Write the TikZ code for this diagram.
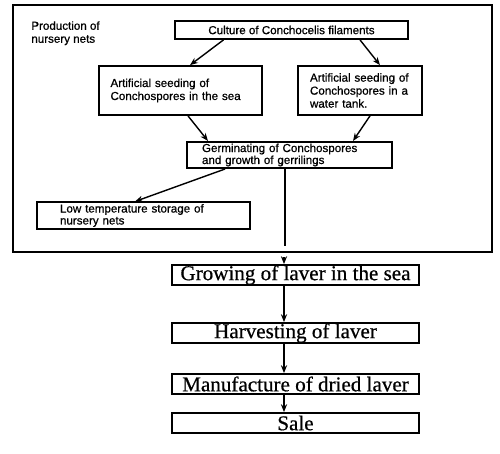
\documentclass[tikz,border=0pt]{standalone}
\usepackage{fontspec}
\newfontfamily\labelsans[FakeBold=0.8]{Liberation Sans}
\newfontfamily\stepserif[FakeBold=0.6]{Liberation Serif}
\usetikzlibrary{arrows.meta}

\begin{document}
\begin{tikzpicture}[x=0.02cm, y=-0.02cm,
  box/.style={draw, line width=1pt, inner ysep=1pt},
  sanstext/.style={font=\labelsans\fontsize{6.6}{7.4}\selectfont},
  tighttext/.style={font=\labelsans\fontsize{6.6}{6.8}\selectfont},
  stepbox/.style={box, minimum width=4.94cm, minimum height=0.4cm, inner sep=0pt, font=\stepserif\fontsize{12}{13}\selectfont},
  flow/.style={-{Stealth[length=4.5pt,width=3.5pt]}, line width=0.8pt}]
\useasboundingbox (0,0) rectangle (500,453);

% Frame of the nursery net stage
\draw [line width=1.4pt] (13,5) rectangle (492,252);
\node (prod) at (31,21) [anchor=north west, inner sep=0pt, align=left, sanstext] {Production of\\nursery nets};

% Define the entities
\node (cult) at (291.5,30) [box, sanstext, minimum width=4.66cm, minimum height=0.36cm] {Culture of Conchocelis filaments};
\node (sea) at (180.5,90.5) [box, sanstext, text width=2.8cm, inner xsep=0.23cm, minimum height=0.98cm, align=left] {Artificial seeding of\\Conchospores in the sea};
\node (tank) at (360,90.5) [box, sanstext, text width=2.0cm, inner xsep=0.24cm, minimum height=0.98cm, align=left] {Artificial seeding of\\Conchospores in a\\water tank.};
\node (germ) at (289.5,155) [box, tighttext, text width=3.5cm, inner xsep=0.3cm, minimum height=0.52cm, align=left] {Germinating of Conchospores\\and growth of gerrilings};
\node (low) at (143.5,215.5) [box, tighttext, text width=3.34cm, inner xsep=0.46cm, minimum height=0.5cm, align=left] {Low temperature storage of\\nursery nets};

\node (grow) at (295.5,275) [stepbox] {Growing of laver in the sea};
\node (harv) at (295.5,333) [stepbox] {Harvesting of laver};
\node (manu) at (295.5,384) [stepbox] {Manufacture of dried laver};
\node (sale) at (295.5,423) [stepbox] {Sale};

% Arrows inside the frame
\draw [flow] ([xshift=-1.36cm]cult.south) -- ([xshift=0.19cm]sea.north);
\draw [flow] ([xshift=1.37cm]cult.south) -- ([xshift=0.4cm]tank.north);
\draw [flow] ([xshift=0.15cm]sea.south) -- ([xshift=-1.63cm]germ.north);
\draw [flow] ([xshift=0.2cm]tank.south) -- ([xshift=1.27cm]germ.north);
\draw [flow] ([xshift=-1.29cm]germ.south) -- ([xshift=-0.17cm]low.north);

% Line out of the frame
\coordinate (exitin) at (285,246);
\coordinate (exitout) at (284,257);
\coordinate (spine) at (284,0);
\draw [line width=0.8pt] (germ.south -| exitin) -- (exitin);
\draw [flow] (exitout) -- (grow.north -| exitout);

% Main steps
\draw [flow] (grow.south -| spine) -- (harv.north -| spine);
\draw [flow] (harv.south -| spine) -- (manu.north -| spine);
\draw [flow] (manu.south -| spine) -- (sale.north -| spine);
\end{tikzpicture}
\end{document}
